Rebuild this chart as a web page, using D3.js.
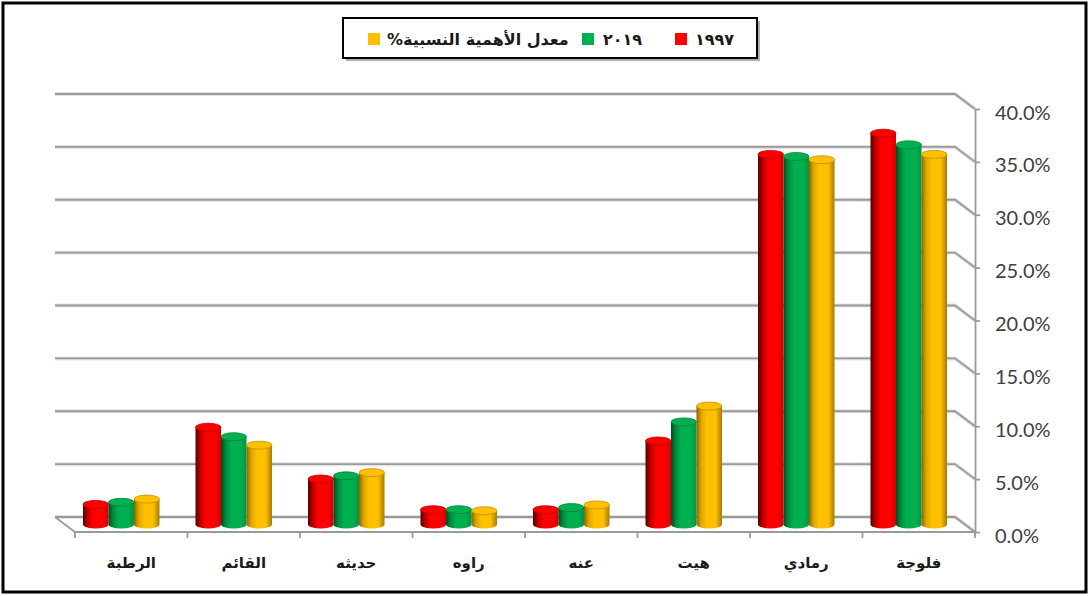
<!DOCTYPE html>
<html><head><meta charset="utf-8">
<script src="https://cdn.jsdelivr.net/npm/d3@7"></script>
<style>body{margin:0;background:#fff}svg{display:block}</style>
</head><body>
<svg id="c" width="1090" height="596"></svg>
<script>
const categories = ["الرطبة","القائم","حديثه","راوه","عنه","هيت","رمادي","فلوجة"];
const seriesNames = ["١٩٩٧","٢٠١٩","معدل الأهمية النسبية%"];
const values1997 = [1.9, 9.2, 4.3, 1.4, 1.4, 7.9, 35.0, 37.0];
const values2019 = [2.1, 8.3, 4.6, 1.4, 1.6, 9.7, 34.8, 35.9];
const valuesAvg  = [2.4, 7.5, 4.9, 1.3, 1.85, 11.2, 34.5, 35.0];
const yTicks = [0, 5, 10, 15, 20, 25, 30, 35, 40];

const series = [values1997, values2019, valuesAvg];
const colors = ["#ff0000", "#00b050", "#ffc000"];
const gradStops = [
  ["#560000","#b80000","#ff0000","#ff0000","#d40000"],
  ["#004a20","#008a3d","#00b050","#00b050","#009644"],
  ["#8a6400","#dca600","#ffc000","#ffc000","#a87a00"]
];

const svg = d3.select("#c");
const DX = -20, DY = -15; // depth offset (back wall)

const x = d3.scaleBand().domain(categories).range([75, 975]).padding(0);
const y = d3.scaleLinear().domain([0, 40]).range([532, 109]);
const inner = d3.scaleBand().domain(d3.range(series.length)).range([0, 76.5]).padding(0);

// gradients
const defs = svg.append("defs");
gradStops.forEach((st, i) => {
  const g = defs.append("linearGradient").attr("id", "g" + i)
    .attr("x1", "0").attr("x2", "1").attr("y1", "0").attr("y2", "0");
  [0, 0.18, 0.4, 0.75, 1].forEach((o, k) => g.append("stop").attr("offset", o).attr("stop-color", st[k]));
});

// frame
svg.append("rect").attr("x", 3).attr("y", 3).attr("width", 1083).attr("height", 589)
  .attr("fill", "#fff").attr("stroke", "#000").attr("stroke-width", 3);

// gridlines on back wall + side wall
const grid = svg.append("g");
yTicks.forEach(v => {
  const yf = y(v);
  grid.append("path")
    .attr("d", `M${75 + DX},${yf + DY} L${975 + DX},${yf + DY} L975,${yf}`)
    .attr("fill", "none").attr("stroke", "#c8c8c8").attr("stroke-width", 4).attr("opacity", 0.5);
  grid.append("path")
    .attr("d", `M${75 + DX},${yf + DY} L${975 + DX},${yf + DY} L975,${yf}`)
    .attr("fill", "none").attr("stroke", "#9a9a9a").attr("stroke-width", 1.8);
});
// floor left edge + front edge
grid.append("path").attr("d", `M${75 + DX},${y(0) + DY} L75,${y(0)} L975,${y(0)}`)
  .attr("fill", "none").attr("stroke", "#9a9a9a").attr("stroke-width", 1.8);

// x ticks at band boundaries
const bounds = categories.map(c => x(c)).concat([x.range()[1]]);
grid.selectAll(".xt").data(bounds).join("line")
  .attr("x1", d => d).attr("x2", d => d).attr("y1", y(0)).attr("y2", y(0) + 6)
  .attr("stroke", "#9a9a9a").attr("stroke-width", 1.8);

// right axis
const ya = svg.append("g").attr("transform", "translate(975,0)")
  .call(d3.axisRight(y).tickValues(yTicks).tickSize(5).tickSizeOuter(0)
    .tickFormat(d => d3.format(".1f")(d) + "%"));
ya.select(".domain").attr("stroke", "#9a9a9a").attr("stroke-width", 1.8);
ya.selectAll(".tick line").attr("stroke", "#9a9a9a").attr("stroke-width", 1.8);
ya.selectAll(".tick text").attr("x", 20).attr("dy", "0.5em")
  .attr("font-family", "Lato, 'Open Sans', sans-serif").attr("font-size", 20).attr("fill", "#404040");

// bars (cylinders)
const rx = inner.bandwidth() / 2, ry = 4;
const barsG = svg.append("g");
categories.forEach((c, ci) => {
  const gx = x(c) + x.bandwidth() / 2 + DX / 2 - 76.5 / 2;
  series.forEach((vals, si) => {
    const cx = gx + inner(si) + rx;
    const yTop = y(vals[ci]) + DY / 2;
    const yBot = y(0) + DY / 2;
    barsG.append("path")
      .attr("d", `M${cx - rx},${yTop} L${cx - rx},${yBot} A${rx},${ry} 0 0 0 ${cx + rx},${yBot} L${cx + rx},${yTop} Z`)
      .attr("fill", `url(#g${si})`);
    barsG.append("ellipse").attr("cx", cx).attr("cy", yTop).attr("rx", rx).attr("ry", ry)
      .attr("fill", colors[si]).attr("stroke", d3.color(colors[si]).darker(0.8)).attr("stroke-width", 0.8);
  });
});

// x labels
svg.append("g").attr("transform", `translate(0,${y(0)})`)
  .call(d3.axisBottom(x).tickSize(0))
  .call(g => g.select(".domain").remove())
  .selectAll("text").attr("y", 25)
  .attr("font-family", "'DejaVu Sans', sans-serif").attr("font-size", 15).attr("font-weight", "bold")
  .attr("fill", "#1a1a1a");

// legend
const lg = svg.append("g");
lg.append("rect").attr("x", 346).attr("y", 21).attr("width", 414).attr("height", 40).attr("fill", "#b0b0b0");
lg.append("rect").attr("x", 343).attr("y", 18).attr("width", 414).attr("height", 40)
  .attr("fill", "#fff").attr("stroke", "#000").attr("stroke-width", 2);
const legendItems = [
  {sq: 675, tx: 695},
  {sq: 582, tx: 603},
  {sq: 368, tx: 387}
];
legendItems.forEach((it, i) => {
  lg.append("rect").attr("x", it.sq).attr("y", 33).attr("width", 12).attr("height", 12).attr("fill", colors[i]);
  lg.append("text").attr("x", it.tx).attr("y", 45)
    .attr("direction", "rtl").attr("text-anchor", "end")
    .attr("font-family", "'DejaVu Sans', sans-serif").attr("font-size", 16).attr("font-weight", "bold")
    .attr("fill", "#1a1a1a").text(seriesNames[i]);
});
</script>
</body></html>
